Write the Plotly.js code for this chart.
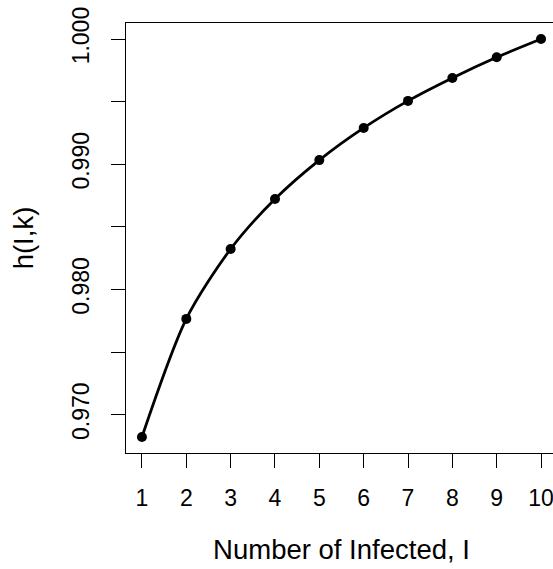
<!DOCTYPE html>
<html>
<head>
<meta charset="utf-8">
<script src="https://cdn.plot.ly/plotly-3.0.1.min.js"></script>
<style>
html, body { margin: 0; padding: 0; overflow: hidden; background: #fff; }
#chart { width: 560px; height: 569px; }
</style>
</head>
<body>
<div id="chart"></div>
<script>
// Data
const infected = [1, 2, 3, 4, 5, 6, 7, 8, 9, 10];
const hValues = [0.96822, 0.97765, 0.98323, 0.98722, 0.99033, 0.99290, 0.99506, 0.99689, 0.99854, 1.00000];
const xTickVals = [1, 2, 3, 4, 5, 6, 7, 8, 9, 10];
const yTickVals = [0.970, 0.980, 0.990, 1.000];
const yTickText = ["0.970", "0.980", "0.990", "1.000"];

const font = "Liberation Sans, Arial, sans-serif";

const traces = [
  {
    x: infected, y: hValues,
    type: "scatter", mode: "lines",
    line: { color: "black", width: 2.8, shape: "spline", smoothing: 0.8 },
    hoverinfo: "skip"
  },
  {
    x: infected, y: hValues,
    type: "scatter", mode: "markers",
    marker: { color: "black", size: 10 }
  }
];

const layout = {
  width: 560, height: 569,
  margin: { l: 126, r: 3, t: 23, b: 116 },
  paper_bgcolor: "white", plot_bgcolor: "white",
  showlegend: false,
  font: { family: font, color: "black", size: 23 },
  xaxis: {
    range: [0.64, 10.36],
    tickmode: "array", tickvals: xTickVals,
    ticks: "outside", ticklen: 14, tickwidth: 1, tickcolor: "black",
    showline: true, mirror: true, linecolor: "black", linewidth: 1,
    showgrid: false, zeroline: false,
    tickfont: { size: 23, family: font, color: "black" },
    ticklabelstandoff: 10,
    title: { text: "Number of Infected, I", font: { size: 27.5, family: font, color: "black" }, standoff: 30 }
  },
  yaxis: {
    range: [0.96694, 1.00128],
    tickmode: "array", tickvals: yTickVals, ticktext: yTickText,
    ticks: "outside", ticklen: 14, tickwidth: 1, tickcolor: "black",
    minor: { tickmode: "linear", tick0: 0.965, dtick: 0.005, ticks: "outside", ticklen: 14, tickwidth: 1, tickcolor: "black", showgrid: false },
    tickangle: -90,
    showline: true, mirror: true, linecolor: "black", linewidth: 1,
    showgrid: false, zeroline: false,
    tickfont: { size: 23, family: font, color: "black" },
    ticklabelstandoff: 13,
    title: { text: "h(I,k)", font: { size: 27.5, family: font, color: "black" }, standoff: 26 }
  }
};

Plotly.newPlot("chart", traces, layout, { displayModeBar: false, staticPlot: true });
</script>
</body>
</html>
